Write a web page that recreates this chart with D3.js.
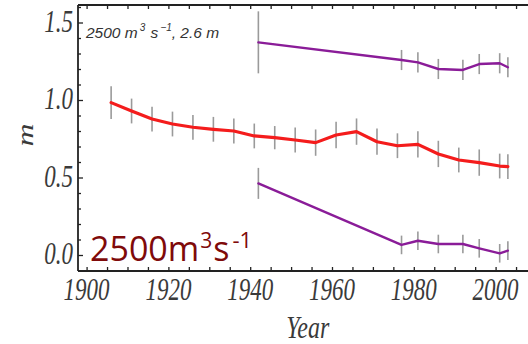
<!DOCTYPE html>
<html><head><meta charset="utf-8">
<script src="https://cdn.jsdelivr.net/npm/d3@7"></script>
<style>body{margin:0;background:#fff}</style></head><body>
<svg id="c" width="528" height="344"></svg>
<script>
const redYears = [1906,1911,1916,1921,1926,1931,1936,1941,1946,1951,1956,1961,1966,1971,1976,1981,1986,1991,1996,2001,2003];
const redValues = [0.983,0.929,0.877,0.845,0.824,0.811,0.800,0.768,0.757,0.742,0.725,0.774,0.796,0.731,0.705,0.714,0.652,0.613,0.596,0.574,0.570];
const redErr = [0.105,0.08,0.08,0.08,0.08,0.08,0.08,0.08,0.075,0.08,0.085,0.085,0.085,0.085,0.08,0.085,0.085,0.08,0.085,0.08,0.08];
const purpleYears = [1942,1977,1981,1986,1992,1996,2001,2003];
const upperValues = [1.372,1.258,1.243,1.200,1.194,1.232,1.237,1.211];
const upperErr = [0.2,0.065,0.065,0.065,0.065,0.065,0.065,0.065];
const lowerValues = [0.462,0.065,0.092,0.071,0.071,0.043,0.011,0.028];
const lowerErr = [0.1,0.06,0.06,0.06,0.06,0.06,0.06,0.06];
const xTickLabels = [1900,1920,1940,1960,1980,2000];
const yTickLabels = [0.0,0.5,1.0,1.5];

const svg = d3.select('#c');
const x = d3.scaleLinear().domain([1897.9, 2010]).range([78, 536.5]);
const y = d3.scaleLinear().domain([0, 1.5]).range([255, 22.5]);
const fTop = 5, fBottom = 271, fLeft = 78, fRight = 540;
const SY = 1.33;

const g = svg.append('g');

// error bars
function bars(years, vals, errs) {
  g.append('g').selectAll('line').data(years).join('line')
    .attr('x1', d => x(d)).attr('x2', d => x(d))
    .attr('y1', (d,i) => y(vals[i] + errs[i]))
    .attr('y2', (d,i) => y(vals[i] - errs[i]))
    .attr('stroke', '#9a9a9a').attr('stroke-width', 1.6);
}
bars(redYears, redValues, redErr);
bars(purpleYears, upperValues, upperErr);
bars(purpleYears, lowerValues, lowerErr);

function series(years, vals, color, w) {
  const line = d3.line().x((d,i) => x(years[i])).y(d => y(d));
  g.append('path').datum(vals).attr('d', line)
    .attr('fill', 'none').attr('stroke', color).attr('stroke-width', w)
    .attr('stroke-linejoin', 'round').attr('stroke-linecap', 'round');
}
series(redYears, redValues, '#f41c1c', 3.2);
series(purpleYears, upperValues, '#8a1c98', 2.4);
series(purpleYears, lowerValues, '#8a1c98', 2.4);

// frame
const fc = '#222';
g.append('line').attr('x1', fLeft).attr('x2', fRight).attr('y1', fTop).attr('y2', fTop).attr('stroke', fc).attr('stroke-width', 1.8);
g.append('line').attr('x1', fLeft).attr('x2', fRight).attr('y1', fBottom).attr('y2', fBottom).attr('stroke', fc).attr('stroke-width', 1.8);
g.append('line').attr('x1', fLeft).attr('x2', fLeft).attr('y1', fTop).attr('y2', fBottom).attr('stroke', fc).attr('stroke-width', 1.8);

// x ticks (bottom and top), inward
const xt = d3.range(1900, 2011, 5);
g.append('g').attr('transform', `translate(0,${fBottom})`)
  .call(d3.axisBottom(x).tickValues(xt).tickSize(-4).tickFormat(''))
  .call(s => s.select('.domain').remove())
  .call(s => s.selectAll('line').attr('stroke', fc).attr('stroke-width', 1.3));
g.append('g').attr('transform', `translate(0,${fTop})`)
  .call(d3.axisTop(x).tickValues(xt).tickSize(-4).tickFormat(''))
  .call(s => s.select('.domain').remove())
  .call(s => s.selectAll('line').attr('stroke', fc).attr('stroke-width', 1.3));
// y ticks inward
const yt = d3.range(-1, 17).map(d => d / 10);
g.append('g').attr('transform', `translate(${fLeft},0)`)
  .call(d3.axisLeft(y).tickValues(yt).tickSize(-3).tickFormat(''))
  .call(s => s.select('.domain').remove())
  .call(s => s.selectAll('line').attr('stroke', fc).attr('stroke-width', 1.3)
    .attr('x2', d => (Math.round(d*10) % 5 === 0) ? 5 : 3));

const serif = '"Liberation Serif", "DejaVu Serif", serif';
const tc = '#3a3a3a';
// x labels
g.append('g').selectAll('text').data(xTickLabels).join('text')
  .attr('transform', d => `translate(${x(d)},300) scale(1,${SY})`)
  .attr('text-anchor', 'middle').attr('font-family', serif).attr('font-style', 'italic')
  .attr('font-size', 23).attr('fill', tc).text(d => d);
// y labels
g.append('g').selectAll('text').data(yTickLabels).join('text')
  .attr('transform', d => `translate(73,${y(d) + 9}) scale(1,${SY})`)
  .attr('text-anchor', 'end').attr('font-family', serif).attr('font-style', 'italic')
  .attr('font-size', 23).attr('fill', tc).text(d => d.toFixed(1));
// axis titles
g.append('text').attr('transform', `translate(307.7,338) scale(1,${SY})`)
  .attr('text-anchor', 'middle').attr('font-family', serif).attr('font-style', 'italic')
  .attr('font-size', 24).attr('fill', tc).text('Year');
g.append('text').attr('transform', `translate(33,135) rotate(-90) scale(${SY},1)`)
  .attr('text-anchor', 'middle').attr('font-family', serif).attr('font-style', 'italic')
  .attr('font-size', 24).attr('fill', tc).text('m');

// inner annotation
const ann = g.append('text').attr('x', 86).attr('y', 37.5)
  .attr('font-family', '"Liberation Sans", Arial, sans-serif').attr('font-style', 'italic')
  .attr('font-size', 15.5).attr('fill', '#333');
ann.append('tspan').text('2500 m');
ann.append('tspan').attr('font-size', 10).attr('dy', -7).attr('dx', 2).text('3');
ann.append('tspan').attr('dy', 7).attr('dx', 1).text(' s');
ann.append('tspan').attr('font-size', 10).attr('dy', -7).attr('dx', 2).text('\u22121');
ann.append('tspan').attr('dy', 7).text(', 2.6 m');

// big label
const big = g.append('text').attr('x', 90).attr('y', 261)
  .attr('font-family', '"Open Sans", "Noto Sans", sans-serif')
  .attr('font-size', 34).attr('fill', '#7f0a0a');
big.append('tspan').text('2500m');
big.append('tspan').attr('font-size', 21).attr('dy', -13).attr('dx', 1).text('3');
big.append('tspan').attr('dy', 13).attr('dx', 1).text('s');
big.append('tspan').attr('font-size', 22).attr('dy', -13).attr('dx', 3).text('-1');
</script>
</body></html>
